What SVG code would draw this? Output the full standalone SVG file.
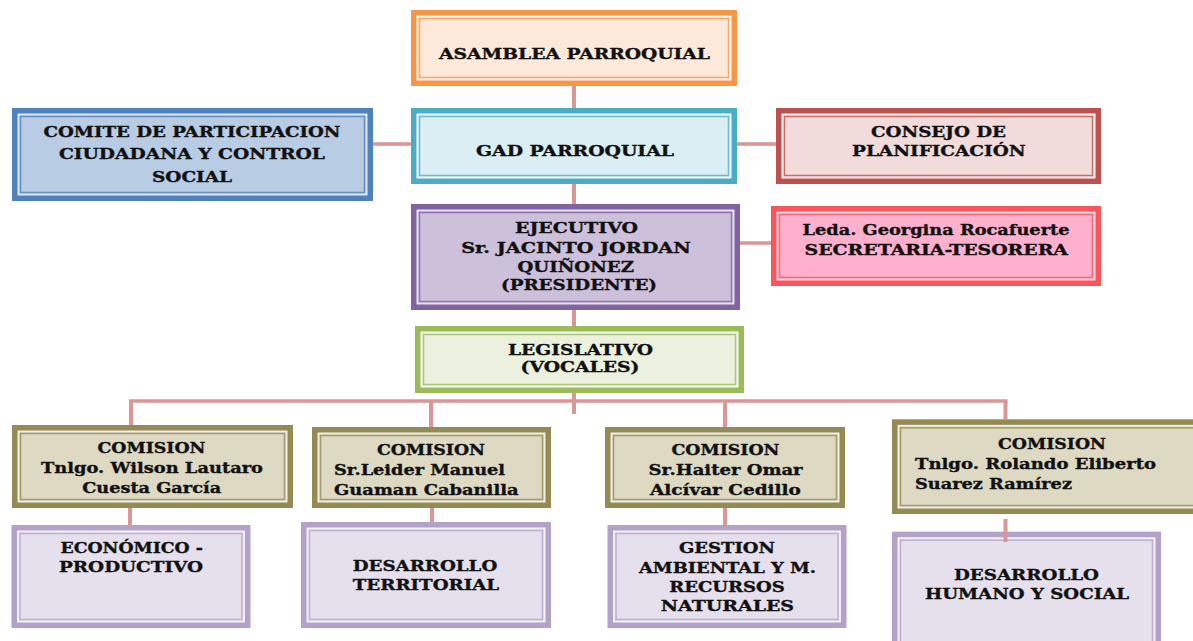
<svg xmlns="http://www.w3.org/2000/svg" width="1193" height="641" viewBox="0 0 1193 641">
<style>
text{font-family:"DejaVu Serif","Liberation Serif",serif;font-weight:bold;font-size:15px;fill:#111;stroke:#111;stroke-width:0.35;text-anchor:middle}
text.l{text-anchor:start}
.o{stroke-width:5.5}
.g{fill:none;stroke:#fff;stroke-width:1.6;opacity:.55}
.i{fill:none;stroke-width:1.5;opacity:.8}
.orange .o{fill:#FDE9D9;stroke:#F79646}.orange .i{stroke:#F79646}
.teal .o{fill:#DAEEF3;stroke:#4BACC6}.teal .i{stroke:#4BACC6}
.blue .o{fill:#B8CCE4;stroke:#4F81BD}.blue .i{stroke:#4F81BD}
.red .o{fill:#F2DCDB;stroke:#C0504D}.red .i{stroke:#C0504D}
.purple .o{fill:#CCC0DA;stroke:#8064A2}.purple .i{stroke:#8064A2}
.pink .o{fill:#FFB0CC;stroke:#F8555C}.pink .i{stroke:#F8555C}
.green .o{fill:#EBF1DE;stroke:#9BBB59}.green .i{stroke:#9BBB59}
.olive .o{fill:#DDD9C3;stroke:#948A54}.olive .i{stroke:#948A54}
.lav .o{fill:#E5E0EC;stroke:#B3A2C7}.lav .i{stroke:#B3A2C7}
#connectors line{stroke:#D99694;stroke-width:4}
</style>

<g id="asamblea" class="orange">
<rect class="o" x="413.75" y="12.75" width="320.5" height="70.5"/>
<rect class="g" x="417.5" y="16.5" width="313" height="63"/>
<rect class="i" x="419.5" y="18.5" width="309" height="59"/>
<text x="574.5" y="58.5" textLength="271" lengthAdjust="spacingAndGlyphs">ASAMBLEA PARROQUIAL</text>
</g>

<g id="gad" class="teal">
<rect class="o" x="413.75" y="110.75" width="320.5" height="70.5"/>
<rect class="g" x="417.5" y="114.5" width="313" height="63"/>
<rect class="i" x="419.5" y="116.5" width="309" height="59"/>
<text x="575" y="155.5" textLength="198" lengthAdjust="spacingAndGlyphs">GAD PARROQUIAL</text>
</g>

<g id="comite" class="blue">
<rect class="o" x="14.75" y="110.75" width="355.5" height="87.5"/>
<rect class="g" x="18.5" y="114.5" width="348" height="80"/>
<rect class="i" x="20.5" y="116.5" width="344" height="76"/>
<text x="192" y="137" textLength="297" lengthAdjust="spacingAndGlyphs">COMITE DE PARTICIPACION</text>
<text x="192" y="158.5" textLength="266" lengthAdjust="spacingAndGlyphs">CIUDADANA Y CONTROL</text>
<text x="192" y="181.5" textLength="80" lengthAdjust="spacingAndGlyphs">SOCIAL</text>
</g>

<g id="consejo" class="red">
<rect class="o" x="778.75" y="110.75" width="319.5" height="70.5"/>
<rect class="g" x="782.5" y="114.5" width="312" height="63"/>
<rect class="i" x="784.5" y="116.5" width="308" height="59"/>
<text x="938.5" y="137" textLength="135" lengthAdjust="spacingAndGlyphs">CONSEJO DE</text>
<text x="938.8" y="155.5" textLength="173.5" lengthAdjust="spacingAndGlyphs">PLANIFICACIÓN</text>
</g>

<g id="ejecutivo" class="purple">
<rect class="o" x="413.75" y="206.75" width="323.5" height="100.5"/>
<rect class="g" x="417.5" y="210.5" width="316" height="93"/>
<rect class="i" x="419.5" y="212.5" width="312" height="89"/>
<text x="576.5" y="233" textLength="123" lengthAdjust="spacingAndGlyphs">EJECUTIVO</text>
<text x="576" y="253" textLength="229.6" lengthAdjust="spacingAndGlyphs">Sr. JACINTO JORDAN</text>
<text x="575.7" y="271.7" textLength="116.6" lengthAdjust="spacingAndGlyphs">QUIÑONEZ</text>
<text x="579" y="290" textLength="156" lengthAdjust="spacingAndGlyphs">(PRESIDENTE)</text>
</g>

<g id="secretaria" class="pink">
<rect class="o" x="773.75" y="208.75" width="324.5" height="74.5"/>
<rect class="g" x="777.5" y="212.5" width="317" height="67"/>
<rect class="i" x="779.5" y="214.5" width="313" height="63"/>
<text x="936" y="235" textLength="267" lengthAdjust="spacingAndGlyphs">Leda. Georgina Rocafuerte</text>
<text x="936.3" y="255" textLength="263.4" lengthAdjust="spacingAndGlyphs">SECRETARIA-TESORERA</text>
</g>

<g id="legislativo" class="green">
<rect class="o" x="417.75" y="328.75" width="323.5" height="61.5"/>
<rect class="g" x="421.5" y="332.5" width="316" height="54"/>
<rect class="i" x="423.5" y="334.5" width="312" height="50"/>
<text x="580.5" y="355" textLength="145" lengthAdjust="spacingAndGlyphs">LEGISLATIVO</text>
<text x="580" y="372" textLength="119" lengthAdjust="spacingAndGlyphs">(VOCALES)</text>
</g>

<g id="comision1" class="olive">
<rect class="o" x="14.75" y="427.75" width="275.5" height="77.5"/>
<rect class="g" x="18.5" y="431.5" width="268" height="70"/>
<rect class="i" x="20.5" y="433.5" width="264" height="66"/>
<text x="151.5" y="453.3" textLength="108" lengthAdjust="spacingAndGlyphs">COMISION</text>
<text x="152" y="473.3" textLength="222" lengthAdjust="spacingAndGlyphs">Tnlgo. Wilson Lautaro</text>
<text x="151.7" y="492.7" textLength="139" lengthAdjust="spacingAndGlyphs">Cuesta García</text>
</g>

<g id="comision2" class="olive">
<rect class="o" x="314.75" y="429.75" width="233.5" height="75.5"/>
<rect class="g" x="318.5" y="433.5" width="226" height="68"/>
<rect class="i" x="320.5" y="435.5" width="222" height="64"/>
<text x="431" y="455" textLength="108" lengthAdjust="spacingAndGlyphs">COMISION</text>
<text class="l" x="334" y="475" textLength="171" lengthAdjust="spacingAndGlyphs">Sr.Leider Manuel</text>
<text class="l" x="334" y="495" textLength="184.6" lengthAdjust="spacingAndGlyphs">Guaman Cabanilla</text>
</g>

<g id="comision3" class="olive">
<rect class="o" x="607.75" y="429.75" width="234.5" height="75.5"/>
<rect class="g" x="611.5" y="433.5" width="227" height="68"/>
<rect class="i" x="613.5" y="435.5" width="223" height="64"/>
<text x="725.5" y="455" textLength="108" lengthAdjust="spacingAndGlyphs">COMISION</text>
<text x="725.6" y="475" textLength="154" lengthAdjust="spacingAndGlyphs">Sr.Haiter Omar</text>
<text x="725.4" y="495" textLength="151" lengthAdjust="spacingAndGlyphs">Alcívar Cedillo</text>
</g>

<g id="comision4" class="olive">
<rect class="o" x="894.75" y="422.05" width="306.5" height="89.2"/>
<rect class="g" x="898.5" y="425.8" width="299" height="81.7"/>
<rect class="i" x="900.5" y="427.8" width="295" height="77.7"/>
<text x="1052" y="449.3" textLength="108" lengthAdjust="spacingAndGlyphs">COMISION</text>
<text class="l" x="915" y="469.3" textLength="241" lengthAdjust="spacingAndGlyphs">Tnlgo. Rolando Eliberto</text>
<text class="l" x="915" y="489" textLength="157" lengthAdjust="spacingAndGlyphs">Suarez Ramírez</text>
</g>

<g id="economico" class="lav">
<rect class="o" x="14.25" y="527.75" width="233.5" height="97.5"/>
<rect class="g" x="18" y="531.5" width="226" height="90"/>
<rect class="i" x="20" y="533.5" width="222" height="86"/>
<text x="131.7" y="553.3" textLength="142.5" lengthAdjust="spacingAndGlyphs">ECONÓMICO -</text>
<text x="131" y="571.7" textLength="144" lengthAdjust="spacingAndGlyphs">PRODUCTIVO</text>
</g>

<g id="territorial" class="lav">
<rect class="o" x="303.75" y="524.75" width="244.5" height="100.5"/>
<rect class="g" x="307.5" y="528.5" width="237" height="93"/>
<rect class="i" x="309.5" y="530.5" width="233" height="89"/>
<text x="425" y="570.7" textLength="144.5" lengthAdjust="spacingAndGlyphs">DESARROLLO</text>
<text x="426" y="590" textLength="146.4" lengthAdjust="spacingAndGlyphs">TERRITORIAL</text>
</g>

<g id="ambiental" class="lav">
<rect class="o" x="610.25" y="527.75" width="233.5" height="97.5"/>
<rect class="g" x="614" y="531.5" width="226" height="90"/>
<rect class="i" x="616" y="533.5" width="222" height="86"/>
<text x="727" y="553.3" textLength="96" lengthAdjust="spacingAndGlyphs">GESTION</text>
<text x="727.5" y="573.3" textLength="177" lengthAdjust="spacingAndGlyphs">AMBIENTAL Y M.</text>
<text x="727" y="591.7" textLength="115.5" lengthAdjust="spacingAndGlyphs">RECURSOS</text>
<text x="727.4" y="611" textLength="133.3" lengthAdjust="spacingAndGlyphs">NATURALES</text>
</g>

<g id="humano" class="lav">
<rect class="o" x="894.75" y="534.45" width="263.5" height="120"/>
<rect class="g" x="898.5" y="538.2" width="256" height="112"/>
<rect class="i" x="900.5" y="540.2" width="252" height="108"/>
<text x="1026.5" y="580" textLength="145" lengthAdjust="spacingAndGlyphs">DESARROLLO</text>
<text x="1027" y="599.3" textLength="204" lengthAdjust="spacingAndGlyphs">HUMANO Y SOCIAL</text>
</g>

<g id="connectors">
<line x1="574" y1="86" x2="574" y2="108"/>
<line x1="373" y1="144" x2="411" y2="144" style="stroke-width:3.5"/>
<line x1="737" y1="144" x2="776" y2="144" style="stroke-width:3.5"/>
<line x1="574" y1="184" x2="574" y2="204"/>
<line x1="740" y1="243" x2="771" y2="243" style="stroke-width:3.5"/>
<line x1="574" y1="310" x2="574" y2="326"/>
<line x1="574" y1="393" x2="574" y2="414"/>
<line x1="129" y1="401" x2="1007.5" y2="401" style="stroke-width:3.5"/>
<line x1="131" y1="401" x2="131" y2="425"/>
<line x1="431" y1="401" x2="431" y2="427"/>
<line x1="725" y1="401" x2="725" y2="427"/>
<line x1="1005.5" y1="401" x2="1005.5" y2="419.3"/>
<line x1="130" y1="508" x2="130" y2="525"/>
<line x1="432" y1="508" x2="432" y2="522"/>
<line x1="725" y1="508" x2="725" y2="525"/>
<line x1="1005.5" y1="519" x2="1005.5" y2="542"/>
</g>
</svg>
